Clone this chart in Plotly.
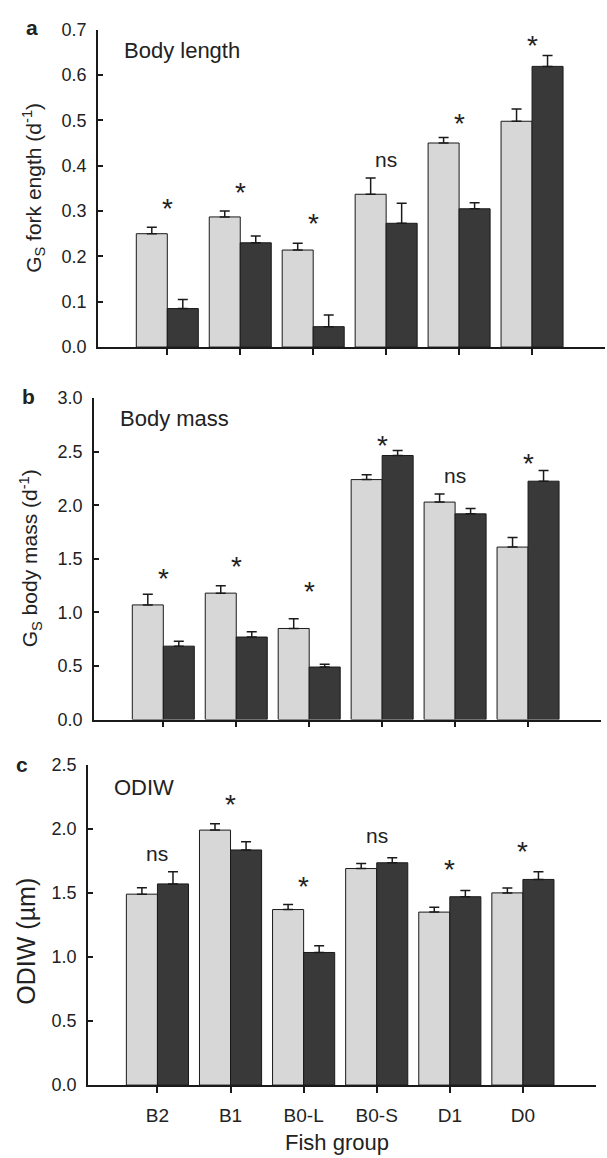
import plotly.graph_objects as go
from plotly.subplots import make_subplots

groups = ["B2", "B1", "B0-L", "B0-S", "D1", "D0"]

length_light = [0.250, 0.287, 0.214, 0.337, 0.450, 0.498]
length_light_err = [0.014, 0.013, 0.015, 0.036, 0.012, 0.027]
length_dark = [0.085, 0.230, 0.045, 0.273, 0.305, 0.619]
length_dark_err = [0.020, 0.015, 0.026, 0.044, 0.013, 0.024]
length_sig = ["*", "*", "*", "ns", "*", "*"]
length_sig_y = [0.321, 0.357, 0.289, 0.414, 0.509, 0.680]

mass_light = [1.07, 1.18, 0.85, 2.24, 2.03, 1.61]
mass_light_err = [0.10, 0.07, 0.09, 0.045, 0.075, 0.09]
mass_dark = [0.685, 0.77, 0.49, 2.465, 1.92, 2.225]
mass_dark_err = [0.046, 0.05, 0.027, 0.046, 0.05, 0.10]
mass_sig = ["*", "*", "*", "*", "ns", "*"]
mass_sig_y = [1.38, 1.49, 1.256, 2.62, 2.275, 2.46]

odiw_light = [1.49, 1.99, 1.37, 1.69, 1.35, 1.50]
odiw_light_err = [0.05, 0.05, 0.04, 0.04, 0.038, 0.038]
odiw_dark = [1.57, 1.835, 1.035, 1.735, 1.47, 1.605]
odiw_dark_err = [0.095, 0.064, 0.053, 0.04, 0.048, 0.06]
odiw_sig = ["ns", "*", "*", "ns", "*", "*"]
odiw_sig_y = [1.81, 2.245, 1.607, 1.944, 1.735, 1.88]

panels = [
    dict(light=length_light, le=length_light_err, dark=length_dark, de=length_dark_err,
         sig=length_sig, sy=length_sig_y, title="Body length", letter="a",
         ytitle="G<sub>S</sub> fork ength (d<sup>-1</sup>)", yrange=[0, 0.7], dtick=0.1,
         tickformat=".1f", ttl_y=0.653, ytsize=21),
    dict(light=mass_light, le=mass_light_err, dark=mass_dark, de=mass_dark_err,
         sig=mass_sig, sy=mass_sig_y, title="Body mass", letter="b",
         ytitle="G<sub>S</sub> body mass (d<sup>-1</sup>)", yrange=[0, 3.0], dtick=0.5,
         tickformat=".1f", ttl_y=2.81, ytsize=21),
    dict(light=odiw_light, le=odiw_light_err, dark=odiw_dark, de=odiw_dark_err,
         sig=odiw_sig, sy=odiw_sig_y, title="ODIW", letter="c",
         ytitle="ODIW (µm)", yrange=[0, 2.5], dtick=0.5,
         tickformat=".1f", ttl_y=2.32, ytsize=25),
]

W, H = 607, 1158
ydoms = [(343, 20), (722, 395), (1094, 768)]
xdoms = [(98, 605), (94, 601), (88, 596)]
letter_pos = [(32, 18), (28, 393), (22, 768)]
ytitle_pos = [(34, 181), (30, 558), (26, 948)]

FONT = "Liberation Sans, Arial, Helvetica, sans-serif"
LIGHT = "#d7d7d7"
DARK = "#393939"
INK = "#1a1a1a"

fig = make_subplots(rows=3, cols=1)

for i, p in enumerate(panels):
    r = i + 1
    fig.add_trace(go.Bar(x=groups, y=p["light"], marker=dict(color=LIGHT, line=dict(color=INK, width=1)),
                         error_y=dict(type="data", array=p["le"], arrayminus=[0]*6, symmetric=False,
                                      color=INK, thickness=1.5, width=5),
                         showlegend=False), row=r, col=1)
    fig.add_trace(go.Bar(x=groups, y=p["dark"], marker=dict(color=DARK, line=dict(color=INK, width=1)),
                         error_y=dict(type="data", array=p["de"], arrayminus=[0]*6, symmetric=False,
                                      color=INK, thickness=1.5, width=5),
                         showlegend=False), row=r, col=1)
    xa = "xaxis" if r == 1 else f"xaxis{r}"
    ya = "yaxis" if r == 1 else f"yaxis{r}"
    xref = "x" if r == 1 else f"x{r}"
    yref = "y" if r == 1 else f"y{r}"
    y0, y1 = ydoms[i]
    x0, x1 = xdoms[i]
    fig.layout[xa].update(domain=[x0 / W, x1 / W], range=[-0.95, 6.0], type="category",
                          showline=True, linecolor=INK, linewidth=1.5,
                          ticks="outside", ticklen=6, tickcolor=INK, tickwidth=1.5,
                          showticklabels=(r == 3), showgrid=False, zeroline=False,
                          ticklabelstandoff=6,
                          tickfont=dict(family=FONT, size=19, color="#222"))
    fig.layout[ya].update(domain=[1 - y0 / H, 1 - y1 / H], range=p["yrange"], dtick=p["dtick"],
                          tick0=0, tickformat=p["tickformat"],
                          showline=True, linecolor=INK, linewidth=1.5,
                          ticks="inside", ticklen=5, tickcolor=INK, tickwidth=1.5,
                          showgrid=False, zeroline=False, ticklabelstandoff=6,
                          tickfont=dict(family=FONT, size=18, color="#222"))
    # significance labels
    for g, s, sy in zip(groups, p["sig"], p["sy"]):
        fig.add_annotation(x=g, y=sy, xref=xref, yref=yref, text=s, showarrow=False,
                           font=dict(family=FONT, size=28 if s == "*" else 21, color="#222"),
                           yanchor="middle", xanchor="center",
                           yshift=-7 if s == "*" else 0)
    # panel title
    fig.add_annotation(x=-0.62, y=p["ttl_y"], xref=xref, yref=yref, text=p["title"],
                       showarrow=False, xanchor="left", yanchor="middle",
                       font=dict(family=FONT, size=22, color="#222"))
    # y title
    tx, ty = ytitle_pos[i]
    fig.add_annotation(x=tx / W, y=1 - ty / H, xref="paper", yref="paper",
                       text=p["ytitle"], textangle=-90, showarrow=False,
                       xanchor="center", yanchor="middle",
                       font=dict(family=FONT, size=p["ytsize"], color="#222"))
    # panel letter
    lx, ly = letter_pos[i]
    fig.add_annotation(x=lx / W, y=1 - ly / H, xref="paper", yref="paper",
                       text="<b>" + p["letter"] + "</b>", showarrow=False,
                       xanchor="center", yanchor="middle",
                       font=dict(family=FONT, size=21, color="#222"))

fig.add_annotation(x=337 / W, y=1 - 1146 / H, xref="paper", yref="paper",
                   text="Fish group", showarrow=False, xanchor="center", yanchor="middle",
                   yshift=-6,
                   font=dict(family=FONT, size=22, color="#222"))

fig.update_layout(width=W, height=H, margin=dict(l=0, r=0, t=0, b=0),
                  barmode="group", bargap=0.15, bargroupgap=0,
                  plot_bgcolor="white", paper_bgcolor="white", showlegend=False)

fig.write_html("out.html", config={"displayModeBar": False},
               post_script="document.body.style.margin='0';")
